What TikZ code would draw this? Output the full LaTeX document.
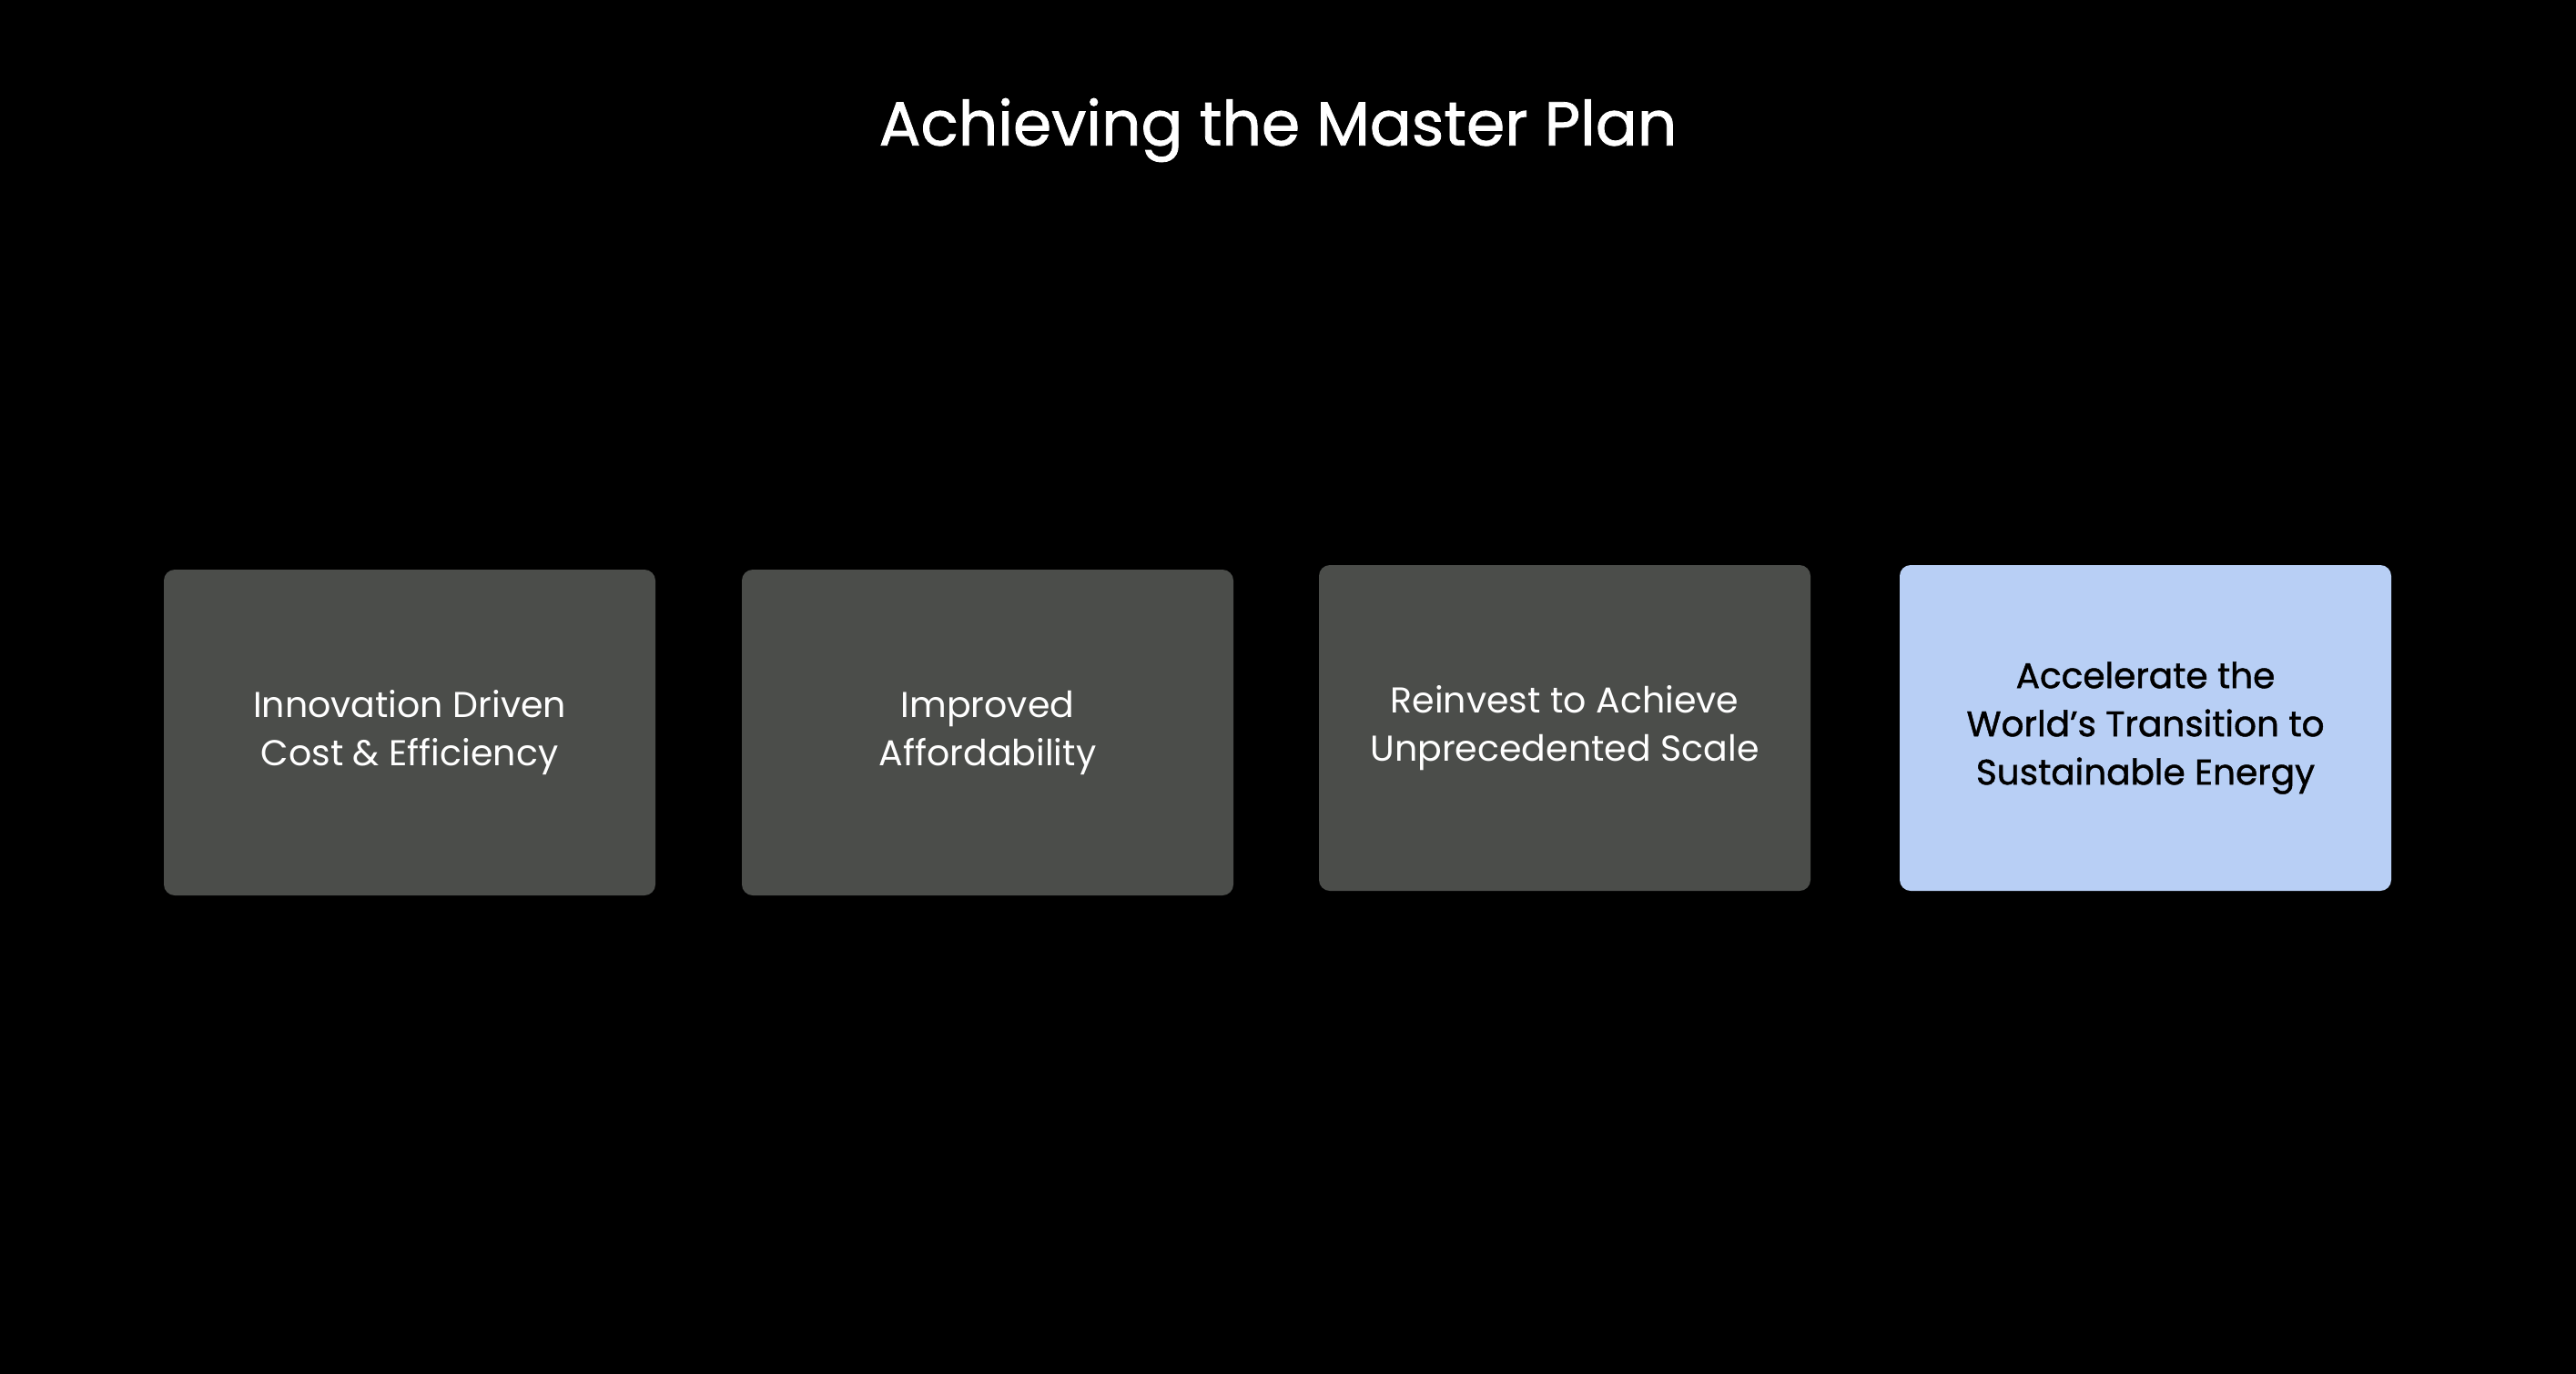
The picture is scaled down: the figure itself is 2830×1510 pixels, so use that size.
\documentclass[tikz,border=0pt]{standalone}
\usepackage{fontspec}
\setmainfont{Poppins}
\newfontfamily\medfont[FakeBold=1.2]{Poppins}
\definecolor{boxgray}{HTML}{4B4D4A}
\definecolor{boxblue}{HTML}{B8CFF5}
\begin{document}
\begin{tikzpicture}[x=1pt,y=-1pt,
  card/.style={rounded corners=12pt, minimum width=540pt, minimum height=358pt, inner sep=0pt, align=center,
    font=\fontsize{39.5}{53}\selectfont},
  graycard/.style={card, fill=boxgray, text=white},
  bluecard/.style={card, fill=boxblue, text=black, font=\medfont\fontsize{39}{53}\selectfont}]
\fill[black] (0,0) rectangle (2830,1510);
\useasboundingbox (0,0) rectangle (2830,1510);
\node[text=white, font=\medfont\fontsize{68}{80}\selectfont] (title) at (1404,143) {Achieving the Master Plan};
\node[graycard] (b1) at (450,805) {Innovation Driven\\Cost \& Efficiency};
\node[graycard] (b2) at (1085,805) {Improved\\Affordability};
\node[graycard] (b3) at (1719,800) {Reinvest to Achieve\\Unprecedented Scale};
\node[bluecard] (b4) at (2357,800) {Accelerate the\\World’s Transition to\\Sustainable Energy};
\end{tikzpicture}
\end{document}
